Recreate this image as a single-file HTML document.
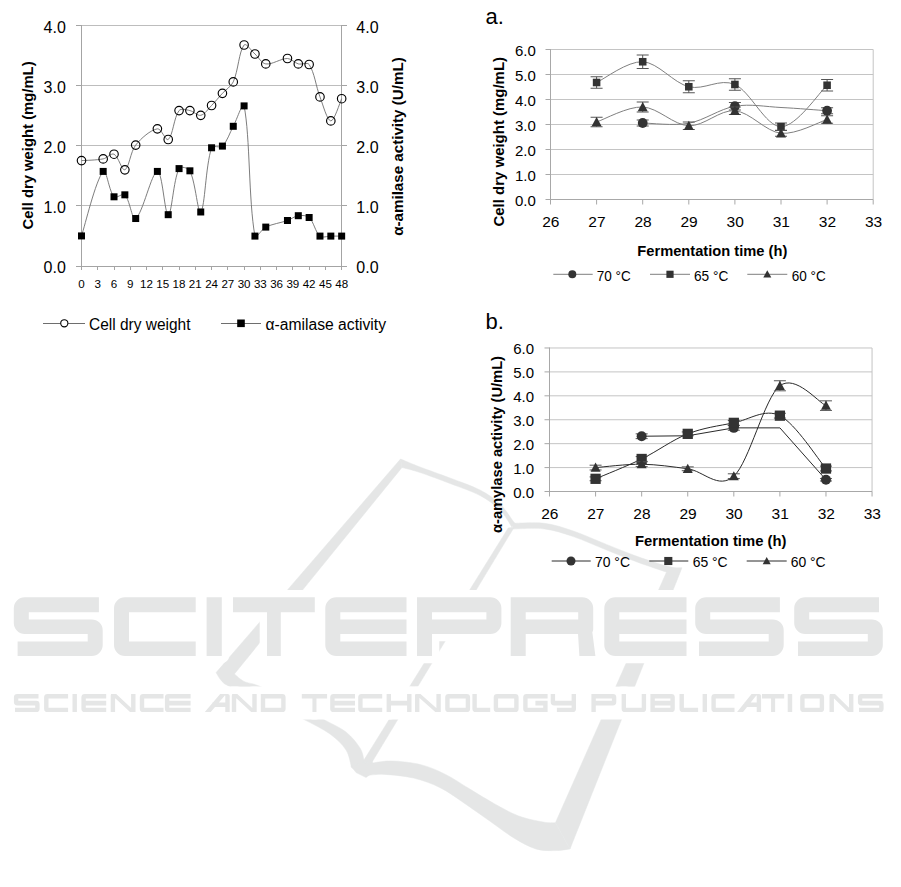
<!DOCTYPE html>
<html><head><meta charset="utf-8"><style>
html,body{margin:0;padding:0;background:#fff;overflow:hidden;}
svg{display:block;}
text{font-family:"Liberation Sans", sans-serif;fill:#000;}
</style></head><body>
<svg width="901" height="887" viewBox="0 0 901 887">
<g stroke-width="1">
<defs><mask id="ko" maskUnits="userSpaceOnUse" x="0" y="0" width="901" height="887"><rect width="901" height="887" fill="#fff"/><path d="M24.8,597.3 H98.9 V612.2 H13.8 V608.3 A11,11 0 0 1 24.8,597.3 Z M24.8,597.3 H28.8 V633.9 H24.8 A11,11 0 0 1 13.8,622.9 V608.3 A11,11 0 0 1 24.8,597.3 Z M13.8,619.4 H91.7 A11,11 0 0 1 102.7,630.4 V633.9 H24.8 A11,11 0 0 1 13.8,622.9 V619.4 Z M87.7,619.4 H91.7 A11,11 0 0 1 102.7,630.4 V644.9 A11,11 0 0 1 91.7,655.9 H87.7 V619.4 Z M17.6,641.6 H102.7 V644.9 A11,11 0 0 1 91.7,655.9 H17.6 V641.6 Z M125,597.3 H195.7 V612.2 H114 V608.3 A11,11 0 0 1 125,597.3 Z M125,597.3 H129 V655.9 H125 A11,11 0 0 1 114,644.9 V608.3 A11,11 0 0 1 125,597.3 Z M114,641.6 H195.7 V655.9 H125 A11,11 0 0 1 114,644.9 V641.6 Z M206.6,597.3 H221.8 V655.9 H206.6 V597.3 Z M233,597.3 H314.8 V612.2 H233 V597.3 Z M267,597.3 H280.8 V655.9 H267 V597.3 Z M336.3,597.3 H406.5 V612.2 H325.3 V608.3 A11,11 0 0 1 336.3,597.3 Z M336.3,597.3 H340.3 V655.9 H336.3 A11,11 0 0 1 325.3,644.9 V608.3 A11,11 0 0 1 336.3,597.3 Z M325.3,641.6 H406.5 V655.9 H336.3 A11,11 0 0 1 325.3,644.9 V641.6 Z M325.3,619.4 H406.5 V633.9 H325.3 V619.4 Z M417,597.3 H432 V655.9 H417 V597.3 Z M417,597.3 H490.4 A11,11 0 0 1 501.4,608.3 V612.2 H417 V597.3 Z M486.4,597.3 H490.4 A11,11 0 0 1 501.4,608.3 V622.9 A11,11 0 0 1 490.4,633.9 H486.4 V597.3 Z M417,619.4 H501.4 V622.9 A11,11 0 0 1 490.4,633.9 H417 V619.4 Z M510.7,597.3 H525.7 V655.9 H510.7 V597.3 Z M510.7,597.3 H582.2 A11,11 0 0 1 593.2,608.3 V612.2 H510.7 V597.3 Z M578.2,597.3 H582.2 A11,11 0 0 1 593.2,608.3 V629.5 A4.4,4.4 0 0 1 588.8,633.9 H578.2 V597.3 Z M510.7,619.4 H593.2 V629.5 A4.4,4.4 0 0 1 588.8,633.9 H510.7 V619.4 Z M577.9,631.9 L592.3,631.9 L595.4,655.9 L579.4,655.9 Z M615.3,597.3 H686.5 V612.2 H604.3 V608.3 A11,11 0 0 1 615.3,597.3 Z M615.3,597.3 H619.3 V655.9 H615.3 A11,11 0 0 1 604.3,644.9 V608.3 A11,11 0 0 1 615.3,597.3 Z M604.3,641.6 H686.5 V655.9 H615.3 A11,11 0 0 1 604.3,644.9 V641.6 Z M604.3,619.4 H686.5 V633.9 H604.3 V619.4 Z M706.2,597.3 H779.9 V612.2 H695.2 V608.3 A11,11 0 0 1 706.2,597.3 Z M706.2,597.3 H710.2 V633.9 H706.2 A11,11 0 0 1 695.2,622.9 V608.3 A11,11 0 0 1 706.2,597.3 Z M695.2,619.4 H772.7 A11,11 0 0 1 783.7,630.4 V633.9 H706.2 A11,11 0 0 1 695.2,622.9 V619.4 Z M768.7,619.4 H772.7 A11,11 0 0 1 783.7,630.4 V644.9 A11,11 0 0 1 772.7,655.9 H768.7 V619.4 Z M699,641.6 H783.7 V644.9 A11,11 0 0 1 772.7,655.9 H699 V641.6 Z M805.2,597.3 H879 V612.2 H794.2 V608.3 A11,11 0 0 1 805.2,597.3 Z M805.2,597.3 H809.2 V633.9 H805.2 A11,11 0 0 1 794.2,622.9 V608.3 A11,11 0 0 1 805.2,597.3 Z M794.2,619.4 H871.8 A11,11 0 0 1 882.8,630.4 V633.9 H805.2 A11,11 0 0 1 794.2,622.9 V619.4 Z M867.8,619.4 H871.8 A11,11 0 0 1 882.8,630.4 V644.9 A11,11 0 0 1 871.8,655.9 H867.8 V619.4 Z M798,641.6 H882.8 V644.9 A11,11 0 0 1 871.8,655.9 H798 V641.6 Z M17.3,693.9 H38.5 V698.5 H13.9 V697.3 A3.4,3.4 0 0 1 17.3,693.9 Z M17.3,693.9 H18.3 V705.5 H17.3 A3.4,3.4 0 0 1 13.9,702.1 V697.3 A3.4,3.4 0 0 1 17.3,693.9 Z M13.9,700.8 H36.2 A3.4,3.4 0 0 1 39.6,704.2 V705.5 H17.3 A3.4,3.4 0 0 1 13.9,702.1 V700.8 Z M35.2,700.8 H36.2 A3.4,3.4 0 0 1 39.6,704.2 V708.7 A3.4,3.4 0 0 1 36.2,712.1 H35.2 V700.8 Z M15,707.8 H39.6 V708.7 A3.4,3.4 0 0 1 36.2,712.1 H15 V707.8 Z M47.5,693.9 H68.1 V698.5 H44.1 V697.3 A3.4,3.4 0 0 1 47.5,693.9 Z M47.5,693.9 H48.5 V712.1 H47.5 A3.4,3.4 0 0 1 44.1,708.7 V697.3 A3.4,3.4 0 0 1 47.5,693.9 Z M44.1,707.8 H68.1 V712.1 H47.5 A3.4,3.4 0 0 1 44.1,708.7 V707.8 Z M72.5,693.9 H76.9 V712.1 H72.5 V693.9 Z M84.8,693.9 H106.2 V698.5 H81.4 V697.3 A3.4,3.4 0 0 1 84.8,693.9 Z M84.8,693.9 H85.8 V712.1 H84.8 A3.4,3.4 0 0 1 81.4,708.7 V697.3 A3.4,3.4 0 0 1 84.8,693.9 Z M81.4,707.8 H106.2 V712.1 H84.8 A3.4,3.4 0 0 1 81.4,708.7 V707.8 Z M81.4,700.8 H106.2 V705.5 H81.4 V700.8 Z M112.4,693.9 H115.1 V712.1 H110.7 V695.6 A1.7,1.7 0 0 1 112.4,693.9 Z M131.1,693.9 H135.5 V712.1 H131.1 V693.9 Z M110.7,693.9 L116.2,693.9 L135.5,712.1 L130,712.1 Z M143.2,693.9 H163.5 V698.5 H139.8 V697.3 A3.4,3.4 0 0 1 143.2,693.9 Z M143.2,693.9 H144.2 V712.1 H143.2 A3.4,3.4 0 0 1 139.8,708.7 V697.3 A3.4,3.4 0 0 1 143.2,693.9 Z M139.8,707.8 H163.5 V712.1 H143.2 A3.4,3.4 0 0 1 139.8,708.7 V707.8 Z M168.3,693.9 H190.6 V698.5 H164.9 V697.3 A3.4,3.4 0 0 1 168.3,693.9 Z M168.3,693.9 H169.3 V712.1 H168.3 A3.4,3.4 0 0 1 164.9,708.7 V697.3 A3.4,3.4 0 0 1 168.3,693.9 Z M164.9,707.8 H190.6 V712.1 H168.3 A3.4,3.4 0 0 1 164.9,708.7 V707.8 Z M164.9,700.8 H190.6 V705.5 H164.9 V700.8 Z M220.16,693.9 L226.1,693.9 L210.74,712.1 L204.8,712.1 Z M221.04,693.9 H227.66 A2.04,2.04 0 0 1 229.7,695.94 V695.51 H220.02 V694.92 A1.02,1.02 0 0 1 221.04,693.9 Z M225.3,693.9 H227.66 A2.04,2.04 0 0 1 229.7,695.94 V712.1 H225.3 V693.9 Z M212.27,702.4 H229.7 V707.1 H212.27 V702.4 Z M233.5,693.9 H236.2 V712.1 H231.8 V695.6 A1.7,1.7 0 0 1 233.5,693.9 Z M252.3,693.9 H256.7 V712.1 H252.3 V693.9 Z M231.8,693.9 L237.3,693.9 L256.7,712.1 L251.2,712.1 Z M260.8,693.9 H265.2 V712.1 H260.8 V693.9 Z M260.8,693.9 H282.2 A3.4,3.4 0 0 1 285.6,697.3 V698.5 H260.8 V693.9 Z M281.2,693.9 H282.2 A3.4,3.4 0 0 1 285.6,697.3 V708.7 A3.4,3.4 0 0 1 282.2,712.1 H281.2 V693.9 Z M260.8,707.8 H285.6 V708.7 A3.4,3.4 0 0 1 282.2,712.1 H260.8 V707.8 Z M301.8,693.9 H327.1 V698.5 H301.8 V693.9 Z M312.43,693.9 H316.47 V712.1 H312.43 V693.9 Z M333.6,693.9 H355 V698.5 H330.2 V697.3 A3.4,3.4 0 0 1 333.6,693.9 Z M333.6,693.9 H334.6 V712.1 H333.6 A3.4,3.4 0 0 1 330.2,708.7 V697.3 A3.4,3.4 0 0 1 333.6,693.9 Z M330.2,707.8 H355 V712.1 H333.6 A3.4,3.4 0 0 1 330.2,708.7 V707.8 Z M330.2,700.8 H355 V705.5 H330.2 V700.8 Z M361.6,693.9 H382.2 V698.5 H358.2 V697.3 A3.4,3.4 0 0 1 361.6,693.9 Z M361.6,693.9 H362.6 V712.1 H361.6 A3.4,3.4 0 0 1 358.2,708.7 V697.3 A3.4,3.4 0 0 1 361.6,693.9 Z M358.2,707.8 H382.2 V712.1 H361.6 A3.4,3.4 0 0 1 358.2,708.7 V707.8 Z M386.6,693.9 H391 V712.1 H386.6 V693.9 Z M407.1,693.9 H411.5 V712.1 H407.1 V693.9 Z M386.6,700.8 H411.5 V705.5 H386.6 V700.8 Z M416.7,693.9 H419.4 V712.1 H415 V695.6 A1.7,1.7 0 0 1 416.7,693.9 Z M436.4,693.9 H440.8 V712.1 H436.4 V693.9 Z M415,693.9 L420.5,693.9 L440.8,712.1 L435.3,712.1 Z M448.6,693.9 H466.7 A3.4,3.4 0 0 1 470.1,697.3 V698.5 H445.2 V697.3 A3.4,3.4 0 0 1 448.6,693.9 Z M448.6,693.9 H449.6 V712.1 H448.6 A3.4,3.4 0 0 1 445.2,708.7 V697.3 A3.4,3.4 0 0 1 448.6,693.9 Z M465.7,693.9 H466.7 A3.4,3.4 0 0 1 470.1,697.3 V708.7 A3.4,3.4 0 0 1 466.7,712.1 H465.7 V693.9 Z M445.2,707.8 H470.1 V708.7 A3.4,3.4 0 0 1 466.7,712.1 H448.6 A3.4,3.4 0 0 1 445.2,708.7 V707.8 Z M472.4,693.9 H476.8 V712.1 H475.8 A3.4,3.4 0 0 1 472.4,708.7 V693.9 Z M472.4,707.8 H490.2 V712.1 H475.8 A3.4,3.4 0 0 1 472.4,708.7 V707.8 Z M497.1,693.9 H515.2 A3.4,3.4 0 0 1 518.6,697.3 V698.5 H493.7 V697.3 A3.4,3.4 0 0 1 497.1,693.9 Z M497.1,693.9 H498.1 V712.1 H497.1 A3.4,3.4 0 0 1 493.7,708.7 V697.3 A3.4,3.4 0 0 1 497.1,693.9 Z M514.2,693.9 H515.2 A3.4,3.4 0 0 1 518.6,697.3 V708.7 A3.4,3.4 0 0 1 515.2,712.1 H514.2 V693.9 Z M493.7,707.8 H518.6 V708.7 A3.4,3.4 0 0 1 515.2,712.1 H497.1 A3.4,3.4 0 0 1 493.7,708.7 V707.8 Z M526.6,693.9 H547.6 V698.5 H523.2 V697.3 A3.4,3.4 0 0 1 526.6,693.9 Z M526.6,693.9 H527.6 V712.1 H526.6 A3.4,3.4 0 0 1 523.2,708.7 V697.3 A3.4,3.4 0 0 1 526.6,693.9 Z M523.2,707.8 H547.6 V712.1 H526.6 A3.4,3.4 0 0 1 523.2,708.7 V707.8 Z M543.2,700.8 H547.6 V712.1 H543.2 V700.8 Z M535.4,700.8 H547.6 V705.5 H535.4 V700.8 Z M550.7,693.9 H555.1 V705.5 H554.1 A3.4,3.4 0 0 1 550.7,702.1 V693.9 Z M550.7,700.8 H576 V705.5 H554.1 A3.4,3.4 0 0 1 550.7,702.1 V700.8 Z M571.6,693.9 H576 V708.7 A3.4,3.4 0 0 1 572.6,712.1 H571.6 V693.9 Z M556.86,707.8 H576 V708.7 A3.4,3.4 0 0 1 572.6,712.1 H556.86 V707.8 Z M591.4,693.9 H595.8 V712.1 H591.4 V693.9 Z M591.4,693.9 H612.9 A3.4,3.4 0 0 1 616.3,697.3 V698.5 H591.4 V693.9 Z M611.9,693.9 H612.9 A3.4,3.4 0 0 1 616.3,697.3 V702.1 A3.4,3.4 0 0 1 612.9,705.5 H611.9 V693.9 Z M591.4,700.8 H616.3 V702.1 A3.4,3.4 0 0 1 612.9,705.5 H591.4 V700.8 Z M621.6,693.9 H626 V712.1 H625 A3.4,3.4 0 0 1 621.6,708.7 V693.9 Z M641.7,693.9 H646.1 V708.7 A3.4,3.4 0 0 1 642.7,712.1 H641.7 V693.9 Z M621.6,707.8 H646.1 V708.7 A3.4,3.4 0 0 1 642.7,712.1 H625 A3.4,3.4 0 0 1 621.6,708.7 V707.8 Z M650.4,693.9 H654.8 V712.1 H650.4 V693.9 Z M650.4,693.9 H671.4 A3.4,3.4 0 0 1 674.8,697.3 V698.5 H650.4 V693.9 Z M670.4,693.9 H671.4 A3.4,3.4 0 0 1 674.8,697.3 V708.7 A3.4,3.4 0 0 1 671.4,712.1 H670.4 V693.9 Z M650.4,707.8 H674.8 V708.7 A3.4,3.4 0 0 1 671.4,712.1 H650.4 V707.8 Z M650.4,700.8 H674.8 V705.5 H650.4 V700.8 Z M679.5,693.9 H683.9 V712.1 H682.9 A3.4,3.4 0 0 1 679.5,708.7 V693.9 Z M679.5,707.8 H698.1 V712.1 H682.9 A3.4,3.4 0 0 1 679.5,708.7 V707.8 Z M702.6,693.9 H707 V712.1 H702.6 V693.9 Z M714.8,693.9 H734.5 V698.5 H711.4 V697.3 A3.4,3.4 0 0 1 714.8,693.9 Z M714.8,693.9 H715.8 V712.1 H714.8 A3.4,3.4 0 0 1 711.4,708.7 V697.3 A3.4,3.4 0 0 1 714.8,693.9 Z M711.4,707.8 H734.5 V712.1 H714.8 A3.4,3.4 0 0 1 711.4,708.7 V707.8 Z M751.56,693.9 L757.5,693.9 L743.04,712.1 L737.1,712.1 Z M752.44,693.9 H759.06 A2.04,2.04 0 0 1 761.1,695.94 V695.51 H751.42 V694.92 A1.02,1.02 0 0 1 752.44,693.9 Z M756.7,693.9 H759.06 A2.04,2.04 0 0 1 761.1,695.94 V712.1 H756.7 V693.9 Z M744.3,702.4 H761.1 V707.1 H744.3 V702.4 Z M762,693.9 H784.2 V698.5 H762 V693.9 Z M771.08,693.9 H775.12 V712.1 H771.08 V693.9 Z M787.7,693.9 H792.2 V712.1 H787.7 V693.9 Z M803.6,693.9 H820.7 A3.4,3.4 0 0 1 824.1,697.3 V698.5 H800.2 V697.3 A3.4,3.4 0 0 1 803.6,693.9 Z M803.6,693.9 H804.6 V712.1 H803.6 A3.4,3.4 0 0 1 800.2,708.7 V697.3 A3.4,3.4 0 0 1 803.6,693.9 Z M819.7,693.9 H820.7 A3.4,3.4 0 0 1 824.1,697.3 V708.7 A3.4,3.4 0 0 1 820.7,712.1 H819.7 V693.9 Z M800.2,707.8 H824.1 V708.7 A3.4,3.4 0 0 1 820.7,712.1 H803.6 A3.4,3.4 0 0 1 800.2,708.7 V707.8 Z M831.2,693.9 H833.9 V712.1 H829.5 V695.6 A1.7,1.7 0 0 1 831.2,693.9 Z M849,693.9 H853.4 V712.1 H849 V693.9 Z M829.5,693.9 L835,693.9 L853.4,712.1 L847.9,712.1 Z M861.3,693.9 H882.5 V698.5 H857.9 V697.3 A3.4,3.4 0 0 1 861.3,693.9 Z M861.3,693.9 H862.3 V705.5 H861.3 A3.4,3.4 0 0 1 857.9,702.1 V697.3 A3.4,3.4 0 0 1 861.3,693.9 Z M857.9,700.8 H880.2 A3.4,3.4 0 0 1 883.6,704.2 V705.5 H861.3 A3.4,3.4 0 0 1 857.9,702.1 V700.8 Z M879.2,700.8 H880.2 A3.4,3.4 0 0 1 883.6,704.2 V708.7 A3.4,3.4 0 0 1 880.2,712.1 H879.2 V700.8 Z M859,707.8 H883.6 V708.7 A3.4,3.4 0 0 1 880.2,712.1 H859 V707.8 Z " fill="#000" stroke="#000" stroke-width="14.6" stroke-linejoin="round"/><rect x="4" y="686.6" width="893" height="32.9" fill="#000"/></mask></defs>
<g mask="url(#ko)" fill="#e5e6e6" stroke="#e5e6e6" stroke-width="0.5"><path d="M400.5,459 L216.1,672.6  C217.08,674.07 219.43,678.97 222,681.4 C224.57,683.83 223.83,683.77 231.5,687.2 C239.17,690.63 256.08,696.7 268,702 C279.92,707.3 292.67,713.67 303,719 C313.33,724.33 322.83,728.83 330,734 C337.17,739.17 342.42,744.42 346,750 C349.58,755.58 350.58,764.58 351.5,767.5 L360,773 L366,776.5 L371.5,764 L364,760 L364,760 C363.33,758 363,752.67 360,748 C357,743.33 352.17,736.83 346,732 C339.83,727.17 332.33,724.42 323,719 C313.67,713.58 300.73,705.03 290,699.5 C279.27,693.97 266.27,688.82 258.6,685.8 C250.93,682.78 248.03,683.37 244,681.4 C239.97,679.43 236,675.23 234.4,674 L402,467.5 Z "/><path d="M400.5,459 C403.75,460.33 411.75,463.83 420,467 C428.25,470.17 440,474.17 450,478 C460,481.83 471.67,485.67 480,490 C488.33,494.33 494.37,498.67 500,504 C505.63,509.33 511.13,518.67 513.8,522 C516.47,525.33 515.63,523.67 516,524 L511.8,527 C509.83,524.17 505.3,515.25 500,510 C494.7,504.75 488.33,499.92 480,495.5 C471.67,491.08 460,487.33 450,483.5 C440,479.67 428,475.17 420,472.5 C412,469.83 405,468.33 402,467.5 Z "/><path d="M508.2,528 L514.3,527 L368.5,768 L359,768 Z "/><path d="M351,766 L372,761 L376,770 L366,777.5 L356,772.5 Z "/><path d="M513,523.3 C518.23,523.3 534.35,522.02 544.4,523.3 C554.45,524.58 562.95,527.48 573.3,531 C583.65,534.52 595.78,540.13 606.5,544.4 C617.22,548.67 627.23,552.9 637.6,556.6 C647.97,560.3 661.3,564.75 668.7,566.6 C676.1,568.45 679.78,567.52 682,567.7 L570,848.9 L555.4,822.8 L666.5,572.1 C661.68,570.45 647.6,565.88 637.6,562.2 C627.6,558.52 617.22,554.27 606.5,550 C595.78,545.73 583.65,540.12 573.3,536.6 C562.95,533.08 554.45,530.17 544.4,528.9 C534.35,527.63 518.23,528.98 513,529 Z "/><path d="M555.4,822.8 C553.35,822.67 549.22,823.13 543.1,822 C536.98,820.87 526.83,819.05 518.7,816 C510.57,812.95 502.43,808.18 494.3,803.7 C486.17,799.22 478.03,793.98 469.9,789.1 C461.77,784.22 453.65,778.47 445.5,774.4 C437.35,770.33 429.97,766.93 421,764.7 C412.03,762.47 400.23,761.22 391.7,761 C383.17,760.78 373.45,763 369.8,763.4 L360,772 L366.1,775.6 C369.15,775.4 376.47,773.98 384.4,774.4 C392.33,774.82 404.33,775.85 413.7,778.1 C423.07,780.35 432.05,783.63 440.6,787.9 C449.15,792.17 456.87,798.22 465,803.7 C473.13,809.18 481.27,815.1 489.4,820.8 C497.53,826.5 506.07,833.22 513.8,837.9 C521.53,842.58 528.87,846.78 535.8,848.9 C542.73,851.02 549.7,850.6 555.4,850.6 C561.1,850.6 567.57,849.18 570,848.9 Z "/></g>
<path d="M24.8,597.3 H98.9 V612.2 H13.8 V608.3 A11,11 0 0 1 24.8,597.3 Z M24.8,597.3 H28.8 V633.9 H24.8 A11,11 0 0 1 13.8,622.9 V608.3 A11,11 0 0 1 24.8,597.3 Z M13.8,619.4 H91.7 A11,11 0 0 1 102.7,630.4 V633.9 H24.8 A11,11 0 0 1 13.8,622.9 V619.4 Z M87.7,619.4 H91.7 A11,11 0 0 1 102.7,630.4 V644.9 A11,11 0 0 1 91.7,655.9 H87.7 V619.4 Z M17.6,641.6 H102.7 V644.9 A11,11 0 0 1 91.7,655.9 H17.6 V641.6 Z M125,597.3 H195.7 V612.2 H114 V608.3 A11,11 0 0 1 125,597.3 Z M125,597.3 H129 V655.9 H125 A11,11 0 0 1 114,644.9 V608.3 A11,11 0 0 1 125,597.3 Z M114,641.6 H195.7 V655.9 H125 A11,11 0 0 1 114,644.9 V641.6 Z M206.6,597.3 H221.8 V655.9 H206.6 V597.3 Z M233,597.3 H314.8 V612.2 H233 V597.3 Z M267,597.3 H280.8 V655.9 H267 V597.3 Z M336.3,597.3 H406.5 V612.2 H325.3 V608.3 A11,11 0 0 1 336.3,597.3 Z M336.3,597.3 H340.3 V655.9 H336.3 A11,11 0 0 1 325.3,644.9 V608.3 A11,11 0 0 1 336.3,597.3 Z M325.3,641.6 H406.5 V655.9 H336.3 A11,11 0 0 1 325.3,644.9 V641.6 Z M325.3,619.4 H406.5 V633.9 H325.3 V619.4 Z M417,597.3 H432 V655.9 H417 V597.3 Z M417,597.3 H490.4 A11,11 0 0 1 501.4,608.3 V612.2 H417 V597.3 Z M486.4,597.3 H490.4 A11,11 0 0 1 501.4,608.3 V622.9 A11,11 0 0 1 490.4,633.9 H486.4 V597.3 Z M417,619.4 H501.4 V622.9 A11,11 0 0 1 490.4,633.9 H417 V619.4 Z M510.7,597.3 H525.7 V655.9 H510.7 V597.3 Z M510.7,597.3 H582.2 A11,11 0 0 1 593.2,608.3 V612.2 H510.7 V597.3 Z M578.2,597.3 H582.2 A11,11 0 0 1 593.2,608.3 V629.5 A4.4,4.4 0 0 1 588.8,633.9 H578.2 V597.3 Z M510.7,619.4 H593.2 V629.5 A4.4,4.4 0 0 1 588.8,633.9 H510.7 V619.4 Z M577.9,631.9 L592.3,631.9 L595.4,655.9 L579.4,655.9 Z M615.3,597.3 H686.5 V612.2 H604.3 V608.3 A11,11 0 0 1 615.3,597.3 Z M615.3,597.3 H619.3 V655.9 H615.3 A11,11 0 0 1 604.3,644.9 V608.3 A11,11 0 0 1 615.3,597.3 Z M604.3,641.6 H686.5 V655.9 H615.3 A11,11 0 0 1 604.3,644.9 V641.6 Z M604.3,619.4 H686.5 V633.9 H604.3 V619.4 Z M706.2,597.3 H779.9 V612.2 H695.2 V608.3 A11,11 0 0 1 706.2,597.3 Z M706.2,597.3 H710.2 V633.9 H706.2 A11,11 0 0 1 695.2,622.9 V608.3 A11,11 0 0 1 706.2,597.3 Z M695.2,619.4 H772.7 A11,11 0 0 1 783.7,630.4 V633.9 H706.2 A11,11 0 0 1 695.2,622.9 V619.4 Z M768.7,619.4 H772.7 A11,11 0 0 1 783.7,630.4 V644.9 A11,11 0 0 1 772.7,655.9 H768.7 V619.4 Z M699,641.6 H783.7 V644.9 A11,11 0 0 1 772.7,655.9 H699 V641.6 Z M805.2,597.3 H879 V612.2 H794.2 V608.3 A11,11 0 0 1 805.2,597.3 Z M805.2,597.3 H809.2 V633.9 H805.2 A11,11 0 0 1 794.2,622.9 V608.3 A11,11 0 0 1 805.2,597.3 Z M794.2,619.4 H871.8 A11,11 0 0 1 882.8,630.4 V633.9 H805.2 A11,11 0 0 1 794.2,622.9 V619.4 Z M867.8,619.4 H871.8 A11,11 0 0 1 882.8,630.4 V644.9 A11,11 0 0 1 871.8,655.9 H867.8 V619.4 Z M798,641.6 H882.8 V644.9 A11,11 0 0 1 871.8,655.9 H798 V641.6 Z M17.3,693.9 H38.5 V698.5 H13.9 V697.3 A3.4,3.4 0 0 1 17.3,693.9 Z M17.3,693.9 H18.3 V705.5 H17.3 A3.4,3.4 0 0 1 13.9,702.1 V697.3 A3.4,3.4 0 0 1 17.3,693.9 Z M13.9,700.8 H36.2 A3.4,3.4 0 0 1 39.6,704.2 V705.5 H17.3 A3.4,3.4 0 0 1 13.9,702.1 V700.8 Z M35.2,700.8 H36.2 A3.4,3.4 0 0 1 39.6,704.2 V708.7 A3.4,3.4 0 0 1 36.2,712.1 H35.2 V700.8 Z M15,707.8 H39.6 V708.7 A3.4,3.4 0 0 1 36.2,712.1 H15 V707.8 Z M47.5,693.9 H68.1 V698.5 H44.1 V697.3 A3.4,3.4 0 0 1 47.5,693.9 Z M47.5,693.9 H48.5 V712.1 H47.5 A3.4,3.4 0 0 1 44.1,708.7 V697.3 A3.4,3.4 0 0 1 47.5,693.9 Z M44.1,707.8 H68.1 V712.1 H47.5 A3.4,3.4 0 0 1 44.1,708.7 V707.8 Z M72.5,693.9 H76.9 V712.1 H72.5 V693.9 Z M84.8,693.9 H106.2 V698.5 H81.4 V697.3 A3.4,3.4 0 0 1 84.8,693.9 Z M84.8,693.9 H85.8 V712.1 H84.8 A3.4,3.4 0 0 1 81.4,708.7 V697.3 A3.4,3.4 0 0 1 84.8,693.9 Z M81.4,707.8 H106.2 V712.1 H84.8 A3.4,3.4 0 0 1 81.4,708.7 V707.8 Z M81.4,700.8 H106.2 V705.5 H81.4 V700.8 Z M112.4,693.9 H115.1 V712.1 H110.7 V695.6 A1.7,1.7 0 0 1 112.4,693.9 Z M131.1,693.9 H135.5 V712.1 H131.1 V693.9 Z M110.7,693.9 L116.2,693.9 L135.5,712.1 L130,712.1 Z M143.2,693.9 H163.5 V698.5 H139.8 V697.3 A3.4,3.4 0 0 1 143.2,693.9 Z M143.2,693.9 H144.2 V712.1 H143.2 A3.4,3.4 0 0 1 139.8,708.7 V697.3 A3.4,3.4 0 0 1 143.2,693.9 Z M139.8,707.8 H163.5 V712.1 H143.2 A3.4,3.4 0 0 1 139.8,708.7 V707.8 Z M168.3,693.9 H190.6 V698.5 H164.9 V697.3 A3.4,3.4 0 0 1 168.3,693.9 Z M168.3,693.9 H169.3 V712.1 H168.3 A3.4,3.4 0 0 1 164.9,708.7 V697.3 A3.4,3.4 0 0 1 168.3,693.9 Z M164.9,707.8 H190.6 V712.1 H168.3 A3.4,3.4 0 0 1 164.9,708.7 V707.8 Z M164.9,700.8 H190.6 V705.5 H164.9 V700.8 Z M220.16,693.9 L226.1,693.9 L210.74,712.1 L204.8,712.1 Z M221.04,693.9 H227.66 A2.04,2.04 0 0 1 229.7,695.94 V695.51 H220.02 V694.92 A1.02,1.02 0 0 1 221.04,693.9 Z M225.3,693.9 H227.66 A2.04,2.04 0 0 1 229.7,695.94 V712.1 H225.3 V693.9 Z M212.27,702.4 H229.7 V707.1 H212.27 V702.4 Z M233.5,693.9 H236.2 V712.1 H231.8 V695.6 A1.7,1.7 0 0 1 233.5,693.9 Z M252.3,693.9 H256.7 V712.1 H252.3 V693.9 Z M231.8,693.9 L237.3,693.9 L256.7,712.1 L251.2,712.1 Z M260.8,693.9 H265.2 V712.1 H260.8 V693.9 Z M260.8,693.9 H282.2 A3.4,3.4 0 0 1 285.6,697.3 V698.5 H260.8 V693.9 Z M281.2,693.9 H282.2 A3.4,3.4 0 0 1 285.6,697.3 V708.7 A3.4,3.4 0 0 1 282.2,712.1 H281.2 V693.9 Z M260.8,707.8 H285.6 V708.7 A3.4,3.4 0 0 1 282.2,712.1 H260.8 V707.8 Z M301.8,693.9 H327.1 V698.5 H301.8 V693.9 Z M312.43,693.9 H316.47 V712.1 H312.43 V693.9 Z M333.6,693.9 H355 V698.5 H330.2 V697.3 A3.4,3.4 0 0 1 333.6,693.9 Z M333.6,693.9 H334.6 V712.1 H333.6 A3.4,3.4 0 0 1 330.2,708.7 V697.3 A3.4,3.4 0 0 1 333.6,693.9 Z M330.2,707.8 H355 V712.1 H333.6 A3.4,3.4 0 0 1 330.2,708.7 V707.8 Z M330.2,700.8 H355 V705.5 H330.2 V700.8 Z M361.6,693.9 H382.2 V698.5 H358.2 V697.3 A3.4,3.4 0 0 1 361.6,693.9 Z M361.6,693.9 H362.6 V712.1 H361.6 A3.4,3.4 0 0 1 358.2,708.7 V697.3 A3.4,3.4 0 0 1 361.6,693.9 Z M358.2,707.8 H382.2 V712.1 H361.6 A3.4,3.4 0 0 1 358.2,708.7 V707.8 Z M386.6,693.9 H391 V712.1 H386.6 V693.9 Z M407.1,693.9 H411.5 V712.1 H407.1 V693.9 Z M386.6,700.8 H411.5 V705.5 H386.6 V700.8 Z M416.7,693.9 H419.4 V712.1 H415 V695.6 A1.7,1.7 0 0 1 416.7,693.9 Z M436.4,693.9 H440.8 V712.1 H436.4 V693.9 Z M415,693.9 L420.5,693.9 L440.8,712.1 L435.3,712.1 Z M448.6,693.9 H466.7 A3.4,3.4 0 0 1 470.1,697.3 V698.5 H445.2 V697.3 A3.4,3.4 0 0 1 448.6,693.9 Z M448.6,693.9 H449.6 V712.1 H448.6 A3.4,3.4 0 0 1 445.2,708.7 V697.3 A3.4,3.4 0 0 1 448.6,693.9 Z M465.7,693.9 H466.7 A3.4,3.4 0 0 1 470.1,697.3 V708.7 A3.4,3.4 0 0 1 466.7,712.1 H465.7 V693.9 Z M445.2,707.8 H470.1 V708.7 A3.4,3.4 0 0 1 466.7,712.1 H448.6 A3.4,3.4 0 0 1 445.2,708.7 V707.8 Z M472.4,693.9 H476.8 V712.1 H475.8 A3.4,3.4 0 0 1 472.4,708.7 V693.9 Z M472.4,707.8 H490.2 V712.1 H475.8 A3.4,3.4 0 0 1 472.4,708.7 V707.8 Z M497.1,693.9 H515.2 A3.4,3.4 0 0 1 518.6,697.3 V698.5 H493.7 V697.3 A3.4,3.4 0 0 1 497.1,693.9 Z M497.1,693.9 H498.1 V712.1 H497.1 A3.4,3.4 0 0 1 493.7,708.7 V697.3 A3.4,3.4 0 0 1 497.1,693.9 Z M514.2,693.9 H515.2 A3.4,3.4 0 0 1 518.6,697.3 V708.7 A3.4,3.4 0 0 1 515.2,712.1 H514.2 V693.9 Z M493.7,707.8 H518.6 V708.7 A3.4,3.4 0 0 1 515.2,712.1 H497.1 A3.4,3.4 0 0 1 493.7,708.7 V707.8 Z M526.6,693.9 H547.6 V698.5 H523.2 V697.3 A3.4,3.4 0 0 1 526.6,693.9 Z M526.6,693.9 H527.6 V712.1 H526.6 A3.4,3.4 0 0 1 523.2,708.7 V697.3 A3.4,3.4 0 0 1 526.6,693.9 Z M523.2,707.8 H547.6 V712.1 H526.6 A3.4,3.4 0 0 1 523.2,708.7 V707.8 Z M543.2,700.8 H547.6 V712.1 H543.2 V700.8 Z M535.4,700.8 H547.6 V705.5 H535.4 V700.8 Z M550.7,693.9 H555.1 V705.5 H554.1 A3.4,3.4 0 0 1 550.7,702.1 V693.9 Z M550.7,700.8 H576 V705.5 H554.1 A3.4,3.4 0 0 1 550.7,702.1 V700.8 Z M571.6,693.9 H576 V708.7 A3.4,3.4 0 0 1 572.6,712.1 H571.6 V693.9 Z M556.86,707.8 H576 V708.7 A3.4,3.4 0 0 1 572.6,712.1 H556.86 V707.8 Z M591.4,693.9 H595.8 V712.1 H591.4 V693.9 Z M591.4,693.9 H612.9 A3.4,3.4 0 0 1 616.3,697.3 V698.5 H591.4 V693.9 Z M611.9,693.9 H612.9 A3.4,3.4 0 0 1 616.3,697.3 V702.1 A3.4,3.4 0 0 1 612.9,705.5 H611.9 V693.9 Z M591.4,700.8 H616.3 V702.1 A3.4,3.4 0 0 1 612.9,705.5 H591.4 V700.8 Z M621.6,693.9 H626 V712.1 H625 A3.4,3.4 0 0 1 621.6,708.7 V693.9 Z M641.7,693.9 H646.1 V708.7 A3.4,3.4 0 0 1 642.7,712.1 H641.7 V693.9 Z M621.6,707.8 H646.1 V708.7 A3.4,3.4 0 0 1 642.7,712.1 H625 A3.4,3.4 0 0 1 621.6,708.7 V707.8 Z M650.4,693.9 H654.8 V712.1 H650.4 V693.9 Z M650.4,693.9 H671.4 A3.4,3.4 0 0 1 674.8,697.3 V698.5 H650.4 V693.9 Z M670.4,693.9 H671.4 A3.4,3.4 0 0 1 674.8,697.3 V708.7 A3.4,3.4 0 0 1 671.4,712.1 H670.4 V693.9 Z M650.4,707.8 H674.8 V708.7 A3.4,3.4 0 0 1 671.4,712.1 H650.4 V707.8 Z M650.4,700.8 H674.8 V705.5 H650.4 V700.8 Z M679.5,693.9 H683.9 V712.1 H682.9 A3.4,3.4 0 0 1 679.5,708.7 V693.9 Z M679.5,707.8 H698.1 V712.1 H682.9 A3.4,3.4 0 0 1 679.5,708.7 V707.8 Z M702.6,693.9 H707 V712.1 H702.6 V693.9 Z M714.8,693.9 H734.5 V698.5 H711.4 V697.3 A3.4,3.4 0 0 1 714.8,693.9 Z M714.8,693.9 H715.8 V712.1 H714.8 A3.4,3.4 0 0 1 711.4,708.7 V697.3 A3.4,3.4 0 0 1 714.8,693.9 Z M711.4,707.8 H734.5 V712.1 H714.8 A3.4,3.4 0 0 1 711.4,708.7 V707.8 Z M751.56,693.9 L757.5,693.9 L743.04,712.1 L737.1,712.1 Z M752.44,693.9 H759.06 A2.04,2.04 0 0 1 761.1,695.94 V695.51 H751.42 V694.92 A1.02,1.02 0 0 1 752.44,693.9 Z M756.7,693.9 H759.06 A2.04,2.04 0 0 1 761.1,695.94 V712.1 H756.7 V693.9 Z M744.3,702.4 H761.1 V707.1 H744.3 V702.4 Z M762,693.9 H784.2 V698.5 H762 V693.9 Z M771.08,693.9 H775.12 V712.1 H771.08 V693.9 Z M787.7,693.9 H792.2 V712.1 H787.7 V693.9 Z M803.6,693.9 H820.7 A3.4,3.4 0 0 1 824.1,697.3 V698.5 H800.2 V697.3 A3.4,3.4 0 0 1 803.6,693.9 Z M803.6,693.9 H804.6 V712.1 H803.6 A3.4,3.4 0 0 1 800.2,708.7 V697.3 A3.4,3.4 0 0 1 803.6,693.9 Z M819.7,693.9 H820.7 A3.4,3.4 0 0 1 824.1,697.3 V708.7 A3.4,3.4 0 0 1 820.7,712.1 H819.7 V693.9 Z M800.2,707.8 H824.1 V708.7 A3.4,3.4 0 0 1 820.7,712.1 H803.6 A3.4,3.4 0 0 1 800.2,708.7 V707.8 Z M831.2,693.9 H833.9 V712.1 H829.5 V695.6 A1.7,1.7 0 0 1 831.2,693.9 Z M849,693.9 H853.4 V712.1 H849 V693.9 Z M829.5,693.9 L835,693.9 L853.4,712.1 L847.9,712.1 Z M861.3,693.9 H882.5 V698.5 H857.9 V697.3 A3.4,3.4 0 0 1 861.3,693.9 Z M861.3,693.9 H862.3 V705.5 H861.3 A3.4,3.4 0 0 1 857.9,702.1 V697.3 A3.4,3.4 0 0 1 861.3,693.9 Z M857.9,700.8 H880.2 A3.4,3.4 0 0 1 883.6,704.2 V705.5 H861.3 A3.4,3.4 0 0 1 857.9,702.1 V700.8 Z M879.2,700.8 H880.2 A3.4,3.4 0 0 1 883.6,704.2 V708.7 A3.4,3.4 0 0 1 880.2,712.1 H879.2 V700.8 Z M859,707.8 H883.6 V708.7 A3.4,3.4 0 0 1 880.2,712.1 H859 V707.8 Z " fill="#e5e6e6"/>
<line x1="82" y1="205.5" x2="341" y2="205.5" stroke="#bdbdbd"/>
<line x1="82" y1="145.5" x2="341" y2="145.5" stroke="#bdbdbd"/>
<line x1="82" y1="85.5" x2="341" y2="85.5" stroke="#bdbdbd"/>
<line x1="82" y1="25.5" x2="341" y2="25.5" stroke="#bdbdbd"/>
<path d="M81.5,25 V270 M341.5,25 V270 M76,266.5 H347 M76,205.5 H81.5 M341.5,205.5 H347 M76,145.5 H81.5 M341.5,145.5 H347 M76,85.5 H81.5 M341.5,85.5 H347 M76,25.5 H81.5 M341.5,25.5 H347 M81.5,266 V270 M97.5,266 V270 M114.5,266 V270 M130.5,266 V270 M146.5,266 V270 M162.5,266 V270 M179.5,266 V270 M195.5,266 V270 M211.5,266 V270 M227.5,266 V270 M244.5,266 V270 M260.5,266 V270 M276.5,266 V270 M292.5,266 V270 M309.5,266 V270 M325.5,266 V270 M341.5,266 V270 " stroke="#a4a4a4" fill="none"/>
<text x="65.8" y="272.8" font-size="16" text-anchor="end">0.0</text>
<text x="356.3" y="272.8" font-size="16">0.0</text>
<text x="65.8" y="212.8" font-size="16" text-anchor="end">1.0</text>
<text x="356.3" y="212.8" font-size="16">1.0</text>
<text x="65.8" y="152.8" font-size="16" text-anchor="end">2.0</text>
<text x="356.3" y="152.8" font-size="16">2.0</text>
<text x="65.8" y="92.8" font-size="16" text-anchor="end">3.0</text>
<text x="356.3" y="92.8" font-size="16">3.0</text>
<text x="65.8" y="32.8" font-size="16" text-anchor="end">4.0</text>
<text x="356.3" y="32.8" font-size="16">4.0</text>
<text x="81.5" y="287.6" font-size="11.6" text-anchor="middle">0</text>
<text x="97.76" y="287.6" font-size="11.6" text-anchor="middle">3</text>
<text x="114.02" y="287.6" font-size="11.6" text-anchor="middle">6</text>
<text x="130.28" y="287.6" font-size="11.6" text-anchor="middle">9</text>
<text x="146.54" y="287.6" font-size="11.6" text-anchor="middle">12</text>
<text x="162.8" y="287.6" font-size="11.6" text-anchor="middle">15</text>
<text x="179.06" y="287.6" font-size="11.6" text-anchor="middle">18</text>
<text x="195.32" y="287.6" font-size="11.6" text-anchor="middle">21</text>
<text x="211.58" y="287.6" font-size="11.6" text-anchor="middle">24</text>
<text x="227.84" y="287.6" font-size="11.6" text-anchor="middle">27</text>
<text x="244.1" y="287.6" font-size="11.6" text-anchor="middle">30</text>
<text x="260.36" y="287.6" font-size="11.6" text-anchor="middle">33</text>
<text x="276.62" y="287.6" font-size="11.6" text-anchor="middle">36</text>
<text x="292.88" y="287.6" font-size="11.6" text-anchor="middle">39</text>
<text x="309.14" y="287.6" font-size="11.6" text-anchor="middle">42</text>
<text x="325.4" y="287.6" font-size="11.6" text-anchor="middle">45</text>
<text x="341.66" y="287.6" font-size="11.6" text-anchor="middle">48</text>
<text transform="translate(32.8,229.4) rotate(-90)" font-size="14.5" font-weight="bold" textLength="168" lengthAdjust="spacingAndGlyphs">Cell dry weight (mg/mL)</text>
<text transform="translate(402.8,235.8) rotate(-90)" font-size="14.5" font-weight="bold" textLength="178.5" lengthAdjust="spacingAndGlyphs">&#945;-amilase activity (U/mL)</text>
<path d="M81.5,160.62 C85.11,160.33 96.15,160.27 103.18,158.88 C106.99,158.13 111.25,152.8 114.02,154.2 C118.48,156.44 121.87,171.06 124.86,169.8 C129.1,168.02 130.29,151.9 135.7,145.08 C141.13,138.24 150.44,130.01 157.38,128.82 C161.28,128.15 165.83,141.51 168.22,139.5 C173.06,135.43 173.71,117.72 179.06,110.58 C180.94,108.08 186.44,109.82 189.9,110.58 C193.67,111.4 197.51,116.08 200.74,115.32 C204.74,114.38 208.16,108.95 211.58,105.48 C215.39,101.61 218.74,97.3 222.42,93.3 C225.97,89.44 231.16,86.57 233.26,81.9 C238.39,70.47 238.81,51.81 244.1,45 C246.04,42.51 251.4,50.91 254.94,54 C258.63,57.21 261.48,63.31 265.78,63.9 C272.32,64.81 280.43,58.5 287.46,58.5 C291.27,58.5 294.49,62.85 298.3,63.9 C301.72,64.85 307.4,61.85 309.14,64.5 C314.62,72.85 315.9,86.28 319.98,96.9 C323.13,105.08 327.09,120.59 330.82,120.9 C334.32,121.19 339.85,102.4 341.66,98.7" stroke="#6e6e6e" stroke-width="0.9" fill="none"/>
<path d="M81.5,235.92 C85.11,225.17 95.47,180.7 103.18,171.42 C106.31,167.66 108.86,191.23 114.02,196.8 C116.08,199.03 122.71,192.67 124.86,194.82 C129.94,199.91 132.07,221.13 135.7,218.52 C142.91,213.33 151.55,172.11 157.38,171.42 C162.39,170.83 164.71,215.14 168.22,214.68 C171.94,214.2 173.2,180.45 179.06,168.6 C180.43,165.83 188.41,167.84 189.9,170.82 C195.64,182.3 197.88,215.02 200.74,211.98 C205.11,207.34 205.4,166.57 211.58,147.78 C212.62,144.61 220.06,148.44 222.42,146.1 C227.28,141.28 229.69,132.92 233.26,126.3 C236.92,119.52 243.01,100.4 244.1,105.9 C250.24,137 248.42,199.63 254.94,236.1 C255.64,240.03 261.62,229.09 265.78,227.1 C272.46,223.89 280.34,222.99 287.46,220.5 C291.18,219.19 294.55,216.22 298.3,215.7 C301.78,215.22 306.7,215.2 309.14,217.5 C313.92,222 315.17,231.98 319.98,236.1 C322.4,238.18 327.21,236.1 330.82,236.1 C334.43,236.1 339.85,236.1 341.66,236.1" stroke="#6e6e6e" stroke-width="0.9" fill="none"/>
<circle cx="81.5" cy="160.62" r="4.25" fill="none" stroke="#000" stroke-width="1.15"/>
<circle cx="103.18" cy="158.88" r="4.25" fill="none" stroke="#000" stroke-width="1.15"/>
<circle cx="114.02" cy="154.2" r="4.25" fill="none" stroke="#000" stroke-width="1.15"/>
<circle cx="124.86" cy="169.8" r="4.25" fill="none" stroke="#000" stroke-width="1.15"/>
<circle cx="135.7" cy="145.08" r="4.25" fill="none" stroke="#000" stroke-width="1.15"/>
<circle cx="157.38" cy="128.82" r="4.25" fill="none" stroke="#000" stroke-width="1.15"/>
<circle cx="168.22" cy="139.5" r="4.25" fill="none" stroke="#000" stroke-width="1.15"/>
<circle cx="179.06" cy="110.58" r="4.25" fill="none" stroke="#000" stroke-width="1.15"/>
<circle cx="189.9" cy="110.58" r="4.25" fill="none" stroke="#000" stroke-width="1.15"/>
<circle cx="200.74" cy="115.32" r="4.25" fill="none" stroke="#000" stroke-width="1.15"/>
<circle cx="211.58" cy="105.48" r="4.25" fill="none" stroke="#000" stroke-width="1.15"/>
<circle cx="222.42" cy="93.3" r="4.25" fill="none" stroke="#000" stroke-width="1.15"/>
<circle cx="233.26" cy="81.9" r="4.25" fill="none" stroke="#000" stroke-width="1.15"/>
<circle cx="244.1" cy="45" r="4.25" fill="none" stroke="#000" stroke-width="1.15"/>
<circle cx="254.94" cy="54" r="4.25" fill="none" stroke="#000" stroke-width="1.15"/>
<circle cx="265.78" cy="63.9" r="4.25" fill="none" stroke="#000" stroke-width="1.15"/>
<circle cx="287.46" cy="58.5" r="4.25" fill="none" stroke="#000" stroke-width="1.15"/>
<circle cx="298.3" cy="63.9" r="4.25" fill="none" stroke="#000" stroke-width="1.15"/>
<circle cx="309.14" cy="64.5" r="4.25" fill="none" stroke="#000" stroke-width="1.15"/>
<circle cx="319.98" cy="96.9" r="4.25" fill="none" stroke="#000" stroke-width="1.15"/>
<circle cx="330.82" cy="120.9" r="4.25" fill="none" stroke="#000" stroke-width="1.15"/>
<circle cx="341.66" cy="98.7" r="4.25" fill="none" stroke="#000" stroke-width="1.15"/>
<rect x="78" y="232.42" width="7" height="7" fill="#000"/>
<rect x="99.68" y="167.92" width="7" height="7" fill="#000"/>
<rect x="110.52" y="193.3" width="7" height="7" fill="#000"/>
<rect x="121.36" y="191.32" width="7" height="7" fill="#000"/>
<rect x="132.2" y="215.02" width="7" height="7" fill="#000"/>
<rect x="153.88" y="167.92" width="7" height="7" fill="#000"/>
<rect x="164.72" y="211.18" width="7" height="7" fill="#000"/>
<rect x="175.56" y="165.1" width="7" height="7" fill="#000"/>
<rect x="186.4" y="167.32" width="7" height="7" fill="#000"/>
<rect x="197.24" y="208.48" width="7" height="7" fill="#000"/>
<rect x="208.08" y="144.28" width="7" height="7" fill="#000"/>
<rect x="218.92" y="142.6" width="7" height="7" fill="#000"/>
<rect x="229.76" y="122.8" width="7" height="7" fill="#000"/>
<rect x="240.6" y="102.4" width="7" height="7" fill="#000"/>
<rect x="251.44" y="232.6" width="7" height="7" fill="#000"/>
<rect x="262.28" y="223.6" width="7" height="7" fill="#000"/>
<rect x="283.96" y="217" width="7" height="7" fill="#000"/>
<rect x="294.8" y="212.2" width="7" height="7" fill="#000"/>
<rect x="305.64" y="214" width="7" height="7" fill="#000"/>
<rect x="316.48" y="232.6" width="7" height="7" fill="#000"/>
<rect x="327.32" y="232.6" width="7" height="7" fill="#000"/>
<rect x="338.16" y="232.6" width="7" height="7" fill="#000"/>
<path d="M43,323.5 H60.5 M68.1,323.5 H85 M221,323.5 H261" stroke="#6e6e6e"/>
<circle cx="64.3" cy="323.3" r="3.6" fill="none" stroke="#000" stroke-width="1.1"/>
<rect x="237.2" y="319.5" width="7.6" height="7.6" fill="#000"/>
<text x="89" y="329.7" font-size="15.8" textLength="101.5" lengthAdjust="spacingAndGlyphs">Cell dry weight</text>
<text x="265.5" y="329.7" font-size="15.8" textLength="120.5" lengthAdjust="spacingAndGlyphs">&#945;-amilase activity</text>
<line x1="550.5" y1="174.5" x2="873.2" y2="174.5" stroke="#c4c4c4"/>
<line x1="550.5" y1="149.5" x2="873.2" y2="149.5" stroke="#c4c4c4"/>
<line x1="550.5" y1="124.5" x2="873.2" y2="124.5" stroke="#c4c4c4"/>
<line x1="550.5" y1="99.5" x2="873.2" y2="99.5" stroke="#c4c4c4"/>
<line x1="550.5" y1="74.5" x2="873.2" y2="74.5" stroke="#c4c4c4"/>
<line x1="550.5" y1="49.5" x2="873.2" y2="49.5" stroke="#c4c4c4"/>
<line x1="873.2" y1="49.5" x2="873.2" y2="199.5" stroke="#c4c4c4"/>
<path d="M550.5,49 V204.5 M545.5,199.5 H873.2 M545.5,174.5 H550.5 M545.5,149.5 H550.5 M545.5,124.5 H550.5 M545.5,99.5 H550.5 M545.5,74.5 H550.5 M545.5,49.5 H550.5 M596.6,199.5 V204.5 M642.7,199.5 V204.5 M688.8,199.5 V204.5 M734.9,199.5 V204.5 M781,199.5 V204.5 M827.1,199.5 V204.5 M873.2,199.5 V204.5 " stroke="#a8a8a8" fill="none"/>
<text x="535.8" y="205.9" font-size="15" text-anchor="end">0.0</text>
<text x="535.8" y="180.9" font-size="15" text-anchor="end">1.0</text>
<text x="535.8" y="155.9" font-size="15" text-anchor="end">2.0</text>
<text x="535.8" y="130.9" font-size="15" text-anchor="end">3.0</text>
<text x="535.8" y="105.9" font-size="15" text-anchor="end">4.0</text>
<text x="535.8" y="80.9" font-size="15" text-anchor="end">5.0</text>
<text x="535.8" y="55.9" font-size="15" text-anchor="end">6.0</text>
<text x="550.8" y="227.2" font-size="15.5" text-anchor="middle">26</text>
<text x="596.9" y="227.2" font-size="15.5" text-anchor="middle">27</text>
<text x="643" y="227.2" font-size="15.5" text-anchor="middle">28</text>
<text x="689.1" y="227.2" font-size="15.5" text-anchor="middle">29</text>
<text x="735.2" y="227.2" font-size="15.5" text-anchor="middle">30</text>
<text x="781.3" y="227.2" font-size="15.5" text-anchor="middle">31</text>
<text x="827.4" y="227.2" font-size="15.5" text-anchor="middle">32</text>
<text x="873.5" y="227.2" font-size="15.5" text-anchor="middle">33</text>
<text x="485.5" y="23.5" font-size="22">a.</text>
<text transform="translate(503.8,226.5) rotate(-90)" font-size="14.5" font-weight="bold" textLength="169.5" lengthAdjust="spacingAndGlyphs">Cell dry weight (mg/mL)</text>
<text x="637.3" y="255.7" font-size="15.5" font-weight="bold" textLength="150" lengthAdjust="spacingAndGlyphs">Fermentation time (h)</text>
<path d="M642.7,123 C650.38,123.04 673.43,126.04 688.8,123.25 C704.17,120.46 719.53,108.88 734.9,106.25 C750.27,103.62 765.63,106.75 781,107.5 C796.37,108.25 819.42,110.21 827.1,110.75" stroke="#7f7f7f" stroke-width="1" fill="none"/>
<path d="M596.6,82.5 C604.28,79.04 627.33,61.04 642.7,61.75 C658.07,62.46 673.43,82.96 688.8,86.75 C704.17,90.54 719.53,77.83 734.9,84.5 C750.27,91.17 765.63,126.62 781,126.75 C796.37,126.88 819.42,92.17 827.1,85.25" stroke="#7f7f7f" stroke-width="1" fill="none"/>
<path d="M596.6,122 C604.28,119.5 627.33,106.38 642.7,107 C658.07,107.62 673.43,125.12 688.8,125.75 C704.17,126.38 719.53,109.5 734.9,110.75 C750.27,112 765.63,131.79 781,133.25 C796.37,134.71 819.42,121.79 827.1,119.5" stroke="#7f7f7f" stroke-width="1" fill="none"/>
<path d="M642.7,120 V126 M636.7,120 H648.7 M636.7,126 H648.7" stroke="#555" fill="none"/>
<circle cx="642.7" cy="123" r="4.9" fill="#333"/>
<path d="M734.9,102.5 V110 M728.9,102.5 H740.9 M728.9,110 H740.9" stroke="#555" fill="none"/>
<circle cx="734.9" cy="106.25" r="4.9" fill="#333"/>
<path d="M827.1,107.75 V113.75 M821.1,107.75 H833.1 M821.1,113.75 H833.1" stroke="#555" fill="none"/>
<circle cx="827.1" cy="110.75" r="4.9" fill="#333"/>
<path d="M596.6,76.75 V88.25 M590.6,76.75 H602.6 M590.6,88.25 H602.6" stroke="#555" fill="none"/>
<rect x="592.82" y="78.72" width="7.56" height="7.56" fill="#333"/>
<path d="M642.7,55 V68.5 M636.7,55 H648.7 M636.7,68.5 H648.7" stroke="#555" fill="none"/>
<rect x="638.92" y="57.97" width="7.56" height="7.56" fill="#333"/>
<path d="M688.8,80.75 V92.75 M682.8,80.75 H694.8 M682.8,92.75 H694.8" stroke="#555" fill="none"/>
<rect x="685.02" y="82.97" width="7.56" height="7.56" fill="#333"/>
<path d="M734.9,78.75 V90.25 M728.9,78.75 H740.9 M728.9,90.25 H740.9" stroke="#555" fill="none"/>
<rect x="731.12" y="80.72" width="7.56" height="7.56" fill="#333"/>
<path d="M781,123 V130.5 M775,123 H787 M775,130.5 H787" stroke="#555" fill="none"/>
<rect x="777.22" y="122.97" width="7.56" height="7.56" fill="#333"/>
<path d="M827.1,79.5 V91 M821.1,79.5 H833.1 M821.1,91 H833.1" stroke="#555" fill="none"/>
<rect x="823.32" y="81.47" width="7.56" height="7.56" fill="#333"/>
<path d="M596.6,117.25 V126.75 M590.6,117.25 H602.6 M590.6,126.75 H602.6" stroke="#555" fill="none"/>
<path d="M596.6,116.94 L601.6,126.14 L591.6,126.14 Z" fill="#333"/>
<path d="M642.7,102 V112 M636.7,102 H648.7 M636.7,112 H648.7" stroke="#555" fill="none"/>
<path d="M642.7,101.94 L647.7,111.14 L637.7,111.14 Z" fill="#333"/>
<path d="M688.8,122 V129.5 M682.8,122 H694.8 M682.8,129.5 H694.8" stroke="#555" fill="none"/>
<path d="M688.8,120.69 L693.8,129.89 L683.8,129.89 Z" fill="#333"/>
<path d="M734.9,107 V114.5 M728.9,107 H740.9 M728.9,114.5 H740.9" stroke="#555" fill="none"/>
<path d="M734.9,105.69 L739.9,114.89 L729.9,114.89 Z" fill="#333"/>
<path d="M781,130.25 V136.25 M775,130.25 H787 M775,136.25 H787" stroke="#555" fill="none"/>
<path d="M781,128.19 L786,137.39 L776,137.39 Z" fill="#333"/>
<path d="M827.1,115.75 V123.25 M821.1,115.75 H833.1 M821.1,123.25 H833.1" stroke="#555" fill="none"/>
<path d="M827.1,114.44 L832.1,123.64 L822.1,123.64 Z" fill="#333"/>
<line x1="553.3" y1="274.3" x2="592.7" y2="274.3" stroke="#7f7f7f"/>
<circle cx="572.3" cy="274.3" r="4" fill="#333"/>
<text x="596.7" y="280.6" font-size="15" textLength="34" lengthAdjust="spacingAndGlyphs">70 &#176;C</text>
<line x1="650" y1="274.3" x2="690" y2="274.3" stroke="#7f7f7f"/>
<rect x="666.4" y="270.7" width="7.2" height="7.2" fill="#333"/>
<text x="694" y="280.6" font-size="15" textLength="34.3" lengthAdjust="spacingAndGlyphs">65 &#176;C</text>
<line x1="747.3" y1="274.3" x2="787.3" y2="274.3" stroke="#7f7f7f"/>
<path d="M767.3,270.25 L771.3,277.61 L763.3,277.61 Z" fill="#333"/>
<text x="791.7" y="280.6" font-size="15" textLength="34" lengthAdjust="spacingAndGlyphs">60 &#176;C</text>
<line x1="549.5" y1="467.58" x2="872.06" y2="467.58" stroke="#c4c4c4"/>
<line x1="549.5" y1="443.66" x2="872.06" y2="443.66" stroke="#c4c4c4"/>
<line x1="549.5" y1="419.74" x2="872.06" y2="419.74" stroke="#c4c4c4"/>
<line x1="549.5" y1="395.82" x2="872.06" y2="395.82" stroke="#c4c4c4"/>
<line x1="549.5" y1="371.9" x2="872.06" y2="371.9" stroke="#c4c4c4"/>
<line x1="549.5" y1="347.98" x2="872.06" y2="347.98" stroke="#c4c4c4"/>
<line x1="872.06" y1="347.98" x2="872.06" y2="491.5" stroke="#c4c4c4"/>
<path d="M549.5,347.48 V496.5 M544.5,491.5 H872.06 M544.5,467.58 H549.5 M544.5,443.66 H549.5 M544.5,419.74 H549.5 M544.5,395.82 H549.5 M544.5,371.9 H549.5 M544.5,347.98 H549.5 M595.58,491.5 V496.5 M641.66,491.5 V496.5 M687.74,491.5 V496.5 M733.82,491.5 V496.5 M779.9,491.5 V496.5 M825.98,491.5 V496.5 M872.06,491.5 V496.5 " stroke="#a8a8a8" fill="none"/>
<text x="534" y="497.9" font-size="15" text-anchor="end">0.0</text>
<text x="534" y="473.98" font-size="15" text-anchor="end">1.0</text>
<text x="534" y="450.06" font-size="15" text-anchor="end">2.0</text>
<text x="534" y="426.14" font-size="15" text-anchor="end">3.0</text>
<text x="534" y="402.22" font-size="15" text-anchor="end">4.0</text>
<text x="534" y="378.3" font-size="15" text-anchor="end">5.0</text>
<text x="534" y="354.38" font-size="15" text-anchor="end">6.0</text>
<text x="549.8" y="519.2" font-size="15.5" text-anchor="middle">26</text>
<text x="595.88" y="519.2" font-size="15.5" text-anchor="middle">27</text>
<text x="641.96" y="519.2" font-size="15.5" text-anchor="middle">28</text>
<text x="688.04" y="519.2" font-size="15.5" text-anchor="middle">29</text>
<text x="734.12" y="519.2" font-size="15.5" text-anchor="middle">30</text>
<text x="780.2" y="519.2" font-size="15.5" text-anchor="middle">31</text>
<text x="826.28" y="519.2" font-size="15.5" text-anchor="middle">32</text>
<text x="872.36" y="519.2" font-size="15.5" text-anchor="middle">33</text>
<text x="485.5" y="328.8" font-size="22">b.</text>
<text transform="translate(501.9,533) rotate(-90)" font-size="14.5" font-weight="bold" textLength="177" lengthAdjust="spacingAndGlyphs">&#945;-amylase activity (U/mL)</text>
<text x="635" y="545.7" font-size="15.5" font-weight="bold" textLength="151.4" lengthAdjust="spacingAndGlyphs">Fermentation time (h)</text>
<path d="M641.66,436.24 L687.74,435.77 L733.82,427.87 L779.9,427.87 L825.98,479.78" stroke="#2a2a2a" stroke-width="1" fill="none"/>
<path d="M595.58,478.82 C603.26,475.51 626.3,466.46 641.66,458.97 C657.02,451.47 672.38,439.87 687.74,433.85 C703.1,427.83 718.46,425.88 733.82,422.85 C749.18,419.82 764.54,408.06 779.9,415.67 C795.26,423.29 818.3,459.73 825.98,468.54" stroke="#2a2a2a" stroke-width="1" fill="none"/>
<path d="M595.58,467.58 C603.26,467.02 626.3,464.03 641.66,464.23 C657.02,464.43 672.38,466.78 687.74,468.78 C703.1,470.77 718.46,490.02 733.82,476.19 C749.18,462.36 764.54,397.53 779.9,385.77 C795.26,374.01 818.3,402.32 825.98,405.63" stroke="#2a2a2a" stroke-width="1" fill="none"/>
<path d="M641.66,433.85 V438.64 M635.66,433.85 H647.66 M635.66,438.64 H647.66" stroke="#555" fill="none"/>
<circle cx="641.66" cy="436.24" r="5" fill="#333"/>
<path d="M733.82,425.48 V430.26 M727.82,425.48 H739.82 M727.82,430.26 H739.82" stroke="#555" fill="none"/>
<circle cx="733.82" cy="427.87" r="5" fill="#333"/>
<path d="M825.98,478.58 V480.98 M819.98,478.58 H831.98 M819.98,480.98 H831.98" stroke="#555" fill="none"/>
<circle cx="825.98" cy="479.78" r="5" fill="#333"/>
<path d="M595.58,476.91 V480.74 M589.58,476.91 H601.58 M589.58,480.74 H601.58" stroke="#555" fill="none"/>
<rect x="590.45" y="473.69" width="10.26" height="10.26" fill="#333"/>
<path d="M641.66,456.58 V461.36 M635.66,456.58 H647.66 M635.66,461.36 H647.66" stroke="#555" fill="none"/>
<rect x="636.53" y="453.84" width="10.26" height="10.26" fill="#333"/>
<path d="M687.74,431.94 V435.77 M681.74,431.94 H693.74 M681.74,435.77 H693.74" stroke="#555" fill="none"/>
<rect x="682.61" y="428.72" width="10.26" height="10.26" fill="#333"/>
<path d="M733.82,420.46 V425.24 M727.82,420.46 H739.82 M727.82,425.24 H739.82" stroke="#555" fill="none"/>
<rect x="728.69" y="417.72" width="10.26" height="10.26" fill="#333"/>
<path d="M779.9,413.28 V418.07 M773.9,413.28 H785.9 M773.9,418.07 H785.9" stroke="#555" fill="none"/>
<rect x="774.77" y="410.54" width="10.26" height="10.26" fill="#333"/>
<path d="M825.98,466.14 V470.93 M819.98,466.14 H831.98 M819.98,470.93 H831.98" stroke="#555" fill="none"/>
<rect x="820.85" y="463.41" width="10.26" height="10.26" fill="#333"/>
<path d="M595.58,465.19 V469.97 M589.58,465.19 H601.58 M589.58,469.97 H601.58" stroke="#555" fill="none"/>
<path d="M595.58,462.52 L600.58,471.72 L590.58,471.72 Z" fill="#333"/>
<path d="M641.66,461.84 V466.62 M635.66,461.84 H647.66 M635.66,466.62 H647.66" stroke="#555" fill="none"/>
<path d="M641.66,459.17 L646.66,468.37 L636.66,468.37 Z" fill="#333"/>
<path d="M687.74,466.86 V470.69 M681.74,466.86 H693.74 M681.74,470.69 H693.74" stroke="#555" fill="none"/>
<path d="M687.74,463.72 L692.74,472.92 L682.74,472.92 Z" fill="#333"/>
<path d="M733.82,473.8 V478.58 M727.82,473.8 H739.82 M727.82,478.58 H739.82" stroke="#555" fill="none"/>
<path d="M733.82,471.13 L738.82,480.33 L728.82,480.33 Z" fill="#333"/>
<path d="M779.9,380.75 V390.8 M773.9,380.75 H785.9 M773.9,390.8 H785.9" stroke="#555" fill="none"/>
<path d="M779.9,380.71 L784.9,389.91 L774.9,389.91 Z" fill="#333"/>
<path d="M825.98,400.84 V410.41 M819.98,400.84 H831.98 M819.98,410.41 H831.98" stroke="#555" fill="none"/>
<path d="M825.98,400.57 L830.98,409.77 L820.98,409.77 Z" fill="#333"/>
<line x1="551.7" y1="561" x2="590.7" y2="561" stroke="#2a2a2a"/>
<circle cx="571" cy="561" r="4.5" fill="#333"/>
<text x="595" y="567.3" font-size="15" textLength="35" lengthAdjust="spacingAndGlyphs">70 &#176;C</text>
<line x1="649.3" y1="561" x2="688.3" y2="561" stroke="#2a2a2a"/>
<rect x="664.25" y="556.95" width="8.1" height="8.1" fill="#333"/>
<text x="692.7" y="567.3" font-size="15" textLength="35" lengthAdjust="spacingAndGlyphs">65 &#176;C</text>
<line x1="746.7" y1="561" x2="786.7" y2="561" stroke="#2a2a2a"/>
<path d="M766.7,556.95 L770.7,564.31 L762.7,564.31 Z" fill="#333"/>
<text x="790.7" y="567.3" font-size="15" textLength="35" lengthAdjust="spacingAndGlyphs">60 &#176;C</text>
</g>
</svg>
</body></html>
